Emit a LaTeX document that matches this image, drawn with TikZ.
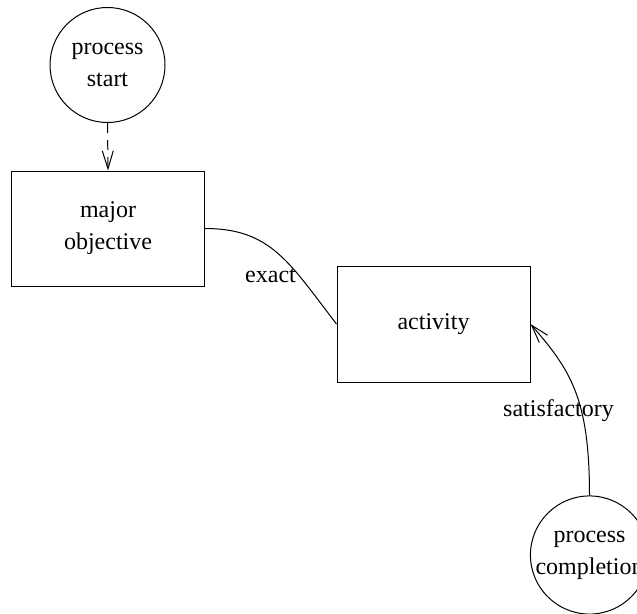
\documentclass[tikz,border=0pt]{standalone}
\usepackage{fontspec}
\setmainfont{Liberation Serif}
\usetikzlibrary{arrows.meta}
\begin{document}
\begin{tikzpicture}[x=1pt,y=-1pt,
  every node/.style={font=\fontsize{24}{32}\selectfont},
  circnode/.style={draw,circle,line width=1pt,minimum size=115pt,inner sep=0pt,align=center},
  boxnode/.style={draw,rectangle,line width=1pt,minimum width=193pt,minimum height=115pt,inner sep=0pt,align=center},
  conn/.style={line width=1pt},
  barb/.style={-{Straight Barb[length=18pt,width=11pt,line width=1pt]}},
  lbl/.style={inner sep=0pt,anchor=base}]
\useasboundingbox (0,0) rectangle (637,613);
\node[circnode] (start) at (107.5,65) {process\\start};
\node[boxnode] (major) at (108,228.5) {major\\objective};
\node[boxnode,minimum height=116pt] (activity) at (433.5,324) {activity};
\node[circnode] (compl) at (589.5,555) {process\\completion};
\draw[conn,barb,dash pattern=on 10pt off 7pt] (start.south) -- (major.north);
\draw[conn] (major.east) .. controls +(66,0) and +(-47,-61) .. (activity.west);
\draw[conn,barb] (compl.north) .. controls +(0,-97) and +(40,46) .. (activity.east);
\node[lbl] (exactlbl) at (270.5,282) {exact};
\node[lbl] (satlbl) at (558.5,416) {satisfactory};
\end{tikzpicture}
\end{document}
